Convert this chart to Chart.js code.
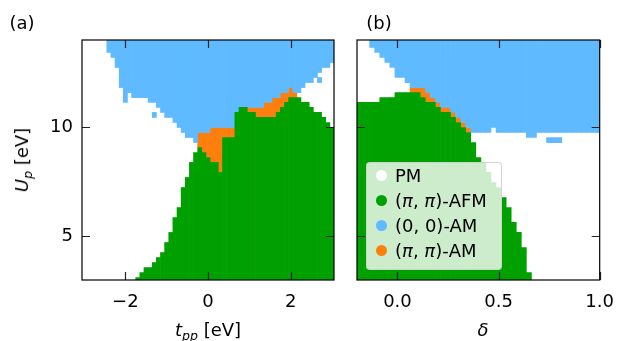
<!DOCTYPE html>
<html>
<head>
<meta charset="utf-8">
<script src="https://cdn.jsdelivr.net/npm/chart.js@4.4.1/dist/chart.umd.min.js"></script>
<style>
  body { margin: 0; background: #fff; font-family: "DejaVu Sans", sans-serif; }
  #wrap { position: relative; width: 626px; height: 341px; overflow: hidden; }
  canvas { position: absolute; top: 0; }
  .lbl { position: absolute; font-size: 18px; color: #000; white-space: nowrap; transform: translate(-50%, -50%); line-height: 1; }
  .rot { transform: translate(-50%, -50%) rotate(-90deg); }
  .sb { font-size: 70%; position: relative; top: 0.3em; font-style: italic; }
  #legend { position: absolute; left: 366px; top: 162px; width: 134px; height: 106px;
            background: rgba(255,255,255,0.8); border: 1px solid rgba(204,204,204,0.8); border-radius: 4px; }
  #legend .row { position: absolute; left: 0; height: 25px; line-height: 25px; font-size: 18px; white-space: nowrap; }
  #legend .dot { position: absolute; left: 9px; top: 7px; width: 11px; height: 11px; border-radius: 50%; }
  #legend .txt { position: absolute; left: 28px; top: 0; }
</style>
</head>
<body>
<div id="wrap">
  <canvas id="panelA" width="345" height="341" style="left:0px"></canvas>
  <canvas id="panelB" width="281" height="341" style="left:345px"></canvas>
  <div class="lbl" style="left:22px;top:23px">(a)</div>
  <div class="lbl" style="left:379px;top:23px">(b)</div>
  <div class="lbl rot" style="left:22px;top:160px"><i>U</i><span class="sb">p</span> [eV]</div>
  <div class="lbl" style="left:208px;top:330px"><i>t</i><span class="sb">pp</span> [eV]</div>
  <div class="lbl" style="left:483px;top:330px"><i>δ</i></div>
  <div id="legend"></div>
</div>
<script>
// U_p range of both diagrams
const U_MIN = 3;
const U_MAX = 14;
const uTicks = [5, 10];

// (a) columns in t_pp, phase boundaries in U_p (null = phase absent in that column)
const tpp = [-3.0, -2.9, -2.8, -2.7, -2.6, -2.5, -2.4, -2.3, -2.2, -2.1,
             -2.0, -1.9, -1.8, -1.7, -1.6, -1.5, -1.4, -1.3, -1.2, -1.1,
             -1.0, -0.9, -0.8, -0.7, -0.6, -0.5, -0.4, -0.3, -0.2, -0.1,
              0.0, 0.1, 0.2, 0.3, 0.4, 0.5, 0.6, 0.7, 0.8, 0.9,
              1.0, 1.1, 1.2, 1.3, 1.4, 1.5, 1.6, 1.7, 1.8, 1.9,
              2.0, 2.1, 2.2, 2.3, 2.4, 2.5, 2.6, 2.7, 2.8, 2.9, 3.0];
const afmTopA = [null, null, null, null, null, null, null, null, null, null,
                 null, null, null, 3.11, 3.34, 3.57, 3.57, 3.80, 4.03, 4.26,
                 4.72, 5.18, 5.86, 6.32, 7.24, 7.70, 8.39, 8.84, 9.07, 8.84,
                 8.61, 8.39, 8.39, 7.93, 9.53, 9.53, 9.53, 10.68, 10.91, 10.91,
                 10.68, 10.68, 10.45, 10.45, 10.45, 10.45, 10.45, 10.68, 10.91, 11.14,
                 11.36, 11.36, 11.36, 11.14, 11.14, 10.91, 10.68, 10.68, 10.45, 10.22, 9.99];
const ppAmTopA = [null, null, null, null, null, null, null, null, null, null,
                  null, null, null, null, null, null, null, null, null, null,
                  null, null, null, null, null, null, null, null, 9.76, 9.76,
                  9.76, 9.99, 9.99, 9.99, 9.99, 9.99, 9.99, null, null, null,
                  10.91, 10.91, 10.91, 10.91, 11.14, 11.14, 11.36, 11.36, 11.59, 11.59,
                  11.82, 11.59, null, null, null, null, null, null, null, null, null];
const zeroAmLowA = [null, null, null, null, null, null, 13.43, 13.20, 12.74, 11.82,
                    11.14, 11.59, 11.36, 11.36, 11.36, 11.36, 11.14, 11.14, 10.91, 10.68,
                    10.45, 10.45, 10.22, 9.99, 9.76, 9.53, 9.53, 9.30, 9.76, 9.76,
                    9.76, 9.99, 9.99, 9.99, 9.99, 9.99, 9.99, 10.68, 10.91, 10.91,
                    10.91, 10.91, 10.91, 10.91, 11.14, 11.14, 11.36, 11.36, 11.59, 11.59,
                    11.82, 11.59, 11.59, 11.82, 12.05, 12.05, 12.28, 12.51, 12.74, 12.74, 12.97];
// isolated (0,0)-AM cells
const speckXA = [-1.3, 2.7];
const speckLowA = [10.45, 12.05];
const speckHighA = [10.68, 12.28];
const tppTicks = [-2, 0, 2];

// (b) columns in delta
const delta = [-0.2, -0.175, -0.15, -0.125, -0.1, -0.075, -0.05, -0.025, 0.0, 0.025,
               0.05, 0.075, 0.1, 0.125, 0.15, 0.175, 0.2, 0.225, 0.25, 0.275,
               0.3, 0.325, 0.35, 0.375, 0.4, 0.425, 0.45, 0.475, 0.5, 0.525,
               0.55, 0.575, 0.6, 0.625, 0.65, 0.675, 0.7, 0.725, 0.75, 0.775,
               0.8, 0.825, 0.85, 0.875, 0.9, 0.925, 0.95, 0.975, 1.0];
const afmTopB = [11.14, 11.14, 11.14, 11.14, 11.14, 11.36, 11.36, 11.36, 11.59, 11.59,
                 11.59, 11.59, 11.59, 11.36, 11.14, 11.14, 10.91, 10.68, 10.68, 10.45,
                 10.22, 9.99, 9.76, 9.30, 8.61, 8.39, 7.93, 7.47, 7.24, 6.78,
                 6.32, 5.64, 5.18, 4.49, 3.34, null, null, null, null, null,
                 null, null, null, null, null, null, null, null, null];
const ppAmTopB = [null, null, null, null, null, null, null, null, null, null,
                  null, 11.82, 11.82, 11.82, 11.59, 11.36, 11.14, 10.91, 10.91, 10.68,
                  10.45, 10.22, 9.99, null, null, null, null, null, null, null,
                  null, null, null, null, null, null, null, null, null, null,
                  null, null, null, null, null, null, null, null, null];
const zeroAmLowB = [null, null, null, 13.66, 13.43, 13.20, 12.97, 12.74, 12.28, 12.28,
                    12.05, 11.82, 11.82, 11.82, 11.59, 11.36, 11.14, 10.91, 10.91, 10.68,
                    10.45, 10.22, 9.99, 9.76, 9.76, 9.76, 9.76, 9.99, 9.76, 9.76,
                    9.76, 9.76, 9.76, 9.76, 9.53, 9.53, 9.76, 9.76, 9.76, 9.76,
                    9.76, 9.76, 9.76, 9.76, 9.76, 9.76, 9.76, 9.76, 9.76];
const speckXB = [0.75, 0.775, 0.8];
const speckLowB = [9.30, 9.30, 9.30];
const speckHighB = [9.53, 9.53, 9.53];
const deltaTicks = [0.0, 0.5, 1.0];

const phaseNames = ['PM', '(π, π)-AFM', '(0, 0)-AM', '(π, π)-AM'];
const phaseColors = ['#ffffff', '#00a000', '#5fbaff', '#ff7f0e'];

// one floating bar [lo, hi] per column where the phase exists
function columns(xs, lo, hi) {
  const out = [];
  xs.forEach((x, i) => {
    const a = Array.isArray(lo) ? lo[i] : lo;
    const b = Array.isArray(hi) ? hi[i] : hi;
    if (a == null || b == null) return;
    out.push({ x: x, y: [a, b] });
  });
  return out;
}

function phaseSets(xs, afmTop, ppTop, zeroLow, sx, slo, shi) {
  return [
    { label: phaseNames[0], data: [], backgroundColor: phaseColors[0], inLegend: true },
    { label: phaseNames[1], data: columns(xs, U_MIN, afmTop), backgroundColor: phaseColors[1], inLegend: true },
    { label: phaseNames[2], data: columns(xs, zeroLow, U_MAX), backgroundColor: phaseColors[2], inLegend: true },
    { label: phaseNames[3], data: columns(xs, afmTop, ppTop), backgroundColor: phaseColors[3], inLegend: true },
    { label: 'spots', data: columns(sx, slo, shi), backgroundColor: phaseColors[2] }
  ];
}

// matplotlib style: frame plus ticks pointing inwards on all four sides
const innerTicks = {
  id: 'innerTicks',
  afterDatasetsDraw(chart) {
    const { ctx, chartArea: a, scales } = chart;
    const len = 8;
    ctx.save();
    ctx.strokeStyle = '#222';
    ctx.lineWidth = 1.2;
    ctx.beginPath();
    for (const t of scales.x.ticks) {
      const px = Math.round(scales.x.getPixelForValue(t.value)) + 0.5;
      ctx.moveTo(px, a.bottom); ctx.lineTo(px, a.bottom - len);
      ctx.moveTo(px, a.top); ctx.lineTo(px, a.top + len);
    }
    for (const t of scales.y.ticks) {
      const py = Math.round(scales.y.getPixelForValue(t.value)) + 0.5;
      ctx.moveTo(a.left, py); ctx.lineTo(a.left + len, py);
      ctx.moveTo(a.right, py); ctx.lineTo(a.right - len, py);
    }
    ctx.stroke();
    ctx.strokeStyle = '#000';
    ctx.lineWidth = 1.2;
    ctx.strokeRect(a.left, a.top, a.right - a.left, a.bottom - a.top);
    ctx.restore();
  }
};

const tickFont = { family: 'DejaVu Sans', size: 18 };

function makePanel(id, sets, xMin, xMax, xTicks, xFmt, yWidth, padding, showY) {
  return new Chart(document.getElementById(id), {
    type: 'bar',
    data: { datasets: sets },
    options: {
      responsive: false,
      animation: false,
      devicePixelRatio: 1,
      layout: { padding: padding },
      datasets: { bar: { barPercentage: 1, categoryPercentage: 1, grouped: false, borderWidth: 0, clip: 0 } },
      plugins: { legend: { display: false }, tooltip: { enabled: false } },
      scales: {
        x: {
          type: 'linear', min: xMin, max: xMax, bounds: 'data', offset: false,
          grid: { display: false, drawTicks: false, offset: false },
          border: { display: false },
          afterBuildTicks: s => { s.ticks = xTicks.map(v => ({ value: v })); },
          afterFit: s => { s.height = 61; },
          ticks: { autoSkip: false, maxRotation: 0, padding: 12, color: '#000', font: tickFont, callback: xFmt }
        },
        y: {
          type: 'linear', min: U_MIN, max: U_MAX, bounds: 'data',
          grid: { display: false, drawTicks: false },
          border: { display: false },
          afterBuildTicks: s => { s.ticks = uTicks.map(v => ({ value: v })); },
          afterFit: s => { s.width = yWidth; },
          ticks: { display: showY, padding: 9, color: '#000', font: tickFont, callback: v => String(v) }
        }
      }
    },
    plugins: [innerTicks]
  });
}

const chartA = makePanel('panelA',
  phaseSets(tpp, afmTopA, ppAmTopA, zeroAmLowA, speckXA, speckLowA, speckHighA),
  -3.05, 3.05, tppTicks, v => String(v).replace('-', '\u2212'),
  82, { left: 0, right: 11, top: 40, bottom: 0 }, true);

const chartB = makePanel('panelB',
  phaseSets(delta, afmTopB, ppAmTopB, zeroAmLowB, speckXB, speckLowB, speckHighB),
  -0.2, 1.0, deltaTicks, v => v.toFixed(1),
  12, { left: 0, right: 17, top: 40, bottom: 0 }, false);

// legend box inside panel (b), built from the chart's datasets
const legendBox = document.getElementById('legend');
chartB.data.datasets.filter(d => d.inLegend).forEach((d, i) => {
  const row = document.createElement('div');
  row.className = 'row';
  row.style.top = (i * 25) + 'px';
  row.innerHTML = '<span class="dot" style="background:' + d.backgroundColor + '"></span>' +
    '<span class="txt">' + d.label.replace(/π/g, '<i>π</i>') + '</span>';
  legendBox.appendChild(row);
});
</script>
</body>
</html>
